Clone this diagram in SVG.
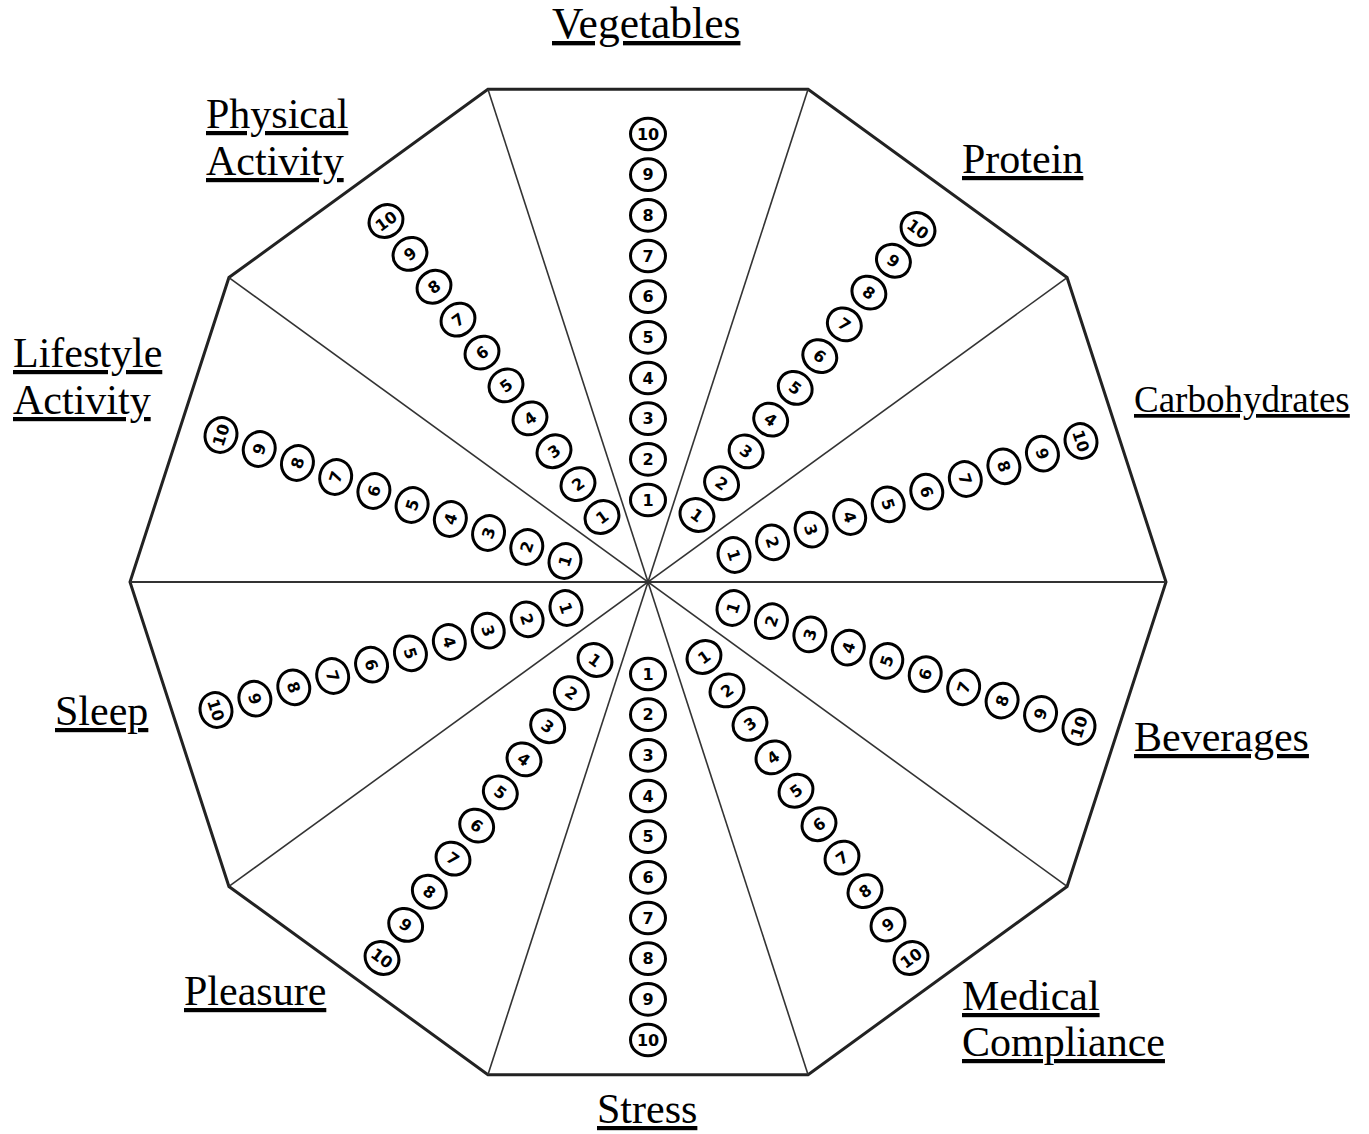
<svg xmlns="http://www.w3.org/2000/svg" width="1369" height="1134" viewBox="0 0 1369 1134">
<style>
.lbl{font-family:"Liberation Serif","Times New Roman",serif;font-size:42px;fill:#000;text-decoration:underline}
.b{fill:#fff;stroke:#000;stroke-width:3}
.n{font-family:"DejaVu Sans",Verdana,sans-serif;font-size:16px;font-weight:bold;fill:#000;text-anchor:middle}
.spoke{stroke:#333;stroke-width:1.6;fill:none}
.frame{fill:#fff;stroke:#222;stroke-width:3;stroke-linejoin:miter}
</style>
<defs>
<ellipse id="bd" class="b" rx="17.5" ry="15.8"/>
</defs>
<rect width="1369" height="1134" fill="#fff"/>
<g id="frame">
<polygon class="frame" points="1166,582 1067.07,277.53 808.07,89.35 487.93,89.35 228.93,277.53 130,582 228.93,886.47 487.93,1074.65 808.07,1074.65 1067.07,886.47"/>
</g>
<g id="connectors">
<line class="spoke" x1="130" y1="582" x2="1166" y2="582" style="stroke-width:2.2"/>
<line class="spoke" x1="1067.07" y1="277.53" x2="228.93" y2="886.47"/>
<line class="spoke" x1="808.07" y1="89.35" x2="487.93" y2="1074.65"/>
<line class="spoke" x1="487.93" y1="89.35" x2="808.07" y2="1074.65"/>
<line class="spoke" x1="228.93" y1="277.53" x2="1067.07" y2="886.47"/>
</g>

<g id="vegetables">
<text class="lbl" x="552" y="38" style="font-size:43.5px">Vegetables</text>
<g transform="translate(648,500)"><use href="#bd"/><text class="n" y="5.8">1</text></g>
<g transform="translate(648,459.33)"><use href="#bd"/><text class="n" y="5.8">2</text></g>
<g transform="translate(648,418.67)"><use href="#bd"/><text class="n" y="5.8">3</text></g>
<g transform="translate(648,378)"><use href="#bd"/><text class="n" y="5.8">4</text></g>
<g transform="translate(648,337.33)"><use href="#bd"/><text class="n" y="5.8">5</text></g>
<g transform="translate(648,296.67)"><use href="#bd"/><text class="n" y="5.8">6</text></g>
<g transform="translate(648,256)"><use href="#bd"/><text class="n" y="5.8">7</text></g>
<g transform="translate(648,215.33)"><use href="#bd"/><text class="n" y="5.8">8</text></g>
<g transform="translate(648,174.67)"><use href="#bd"/><text class="n" y="5.8">9</text></g>
<g transform="translate(648,134)"><use href="#bd"/><text class="n" y="5.8">10</text></g>
</g>

<g id="protein">
<text class="lbl" x="962" y="173">Protein</text>
<g transform="translate(697,515) rotate(36)"><use href="#bd"/><text class="n" y="5.8">1</text></g>
<g transform="translate(721.56,483.22) rotate(36)"><use href="#bd"/><text class="n" y="5.8">2</text></g>
<g transform="translate(746.11,451.44) rotate(36)"><use href="#bd"/><text class="n" y="5.8">3</text></g>
<g transform="translate(770.67,419.67) rotate(36)"><use href="#bd"/><text class="n" y="5.8">4</text></g>
<g transform="translate(795.22,387.89) rotate(36)"><use href="#bd"/><text class="n" y="5.8">5</text></g>
<g transform="translate(819.78,356.11) rotate(36)"><use href="#bd"/><text class="n" y="5.8">6</text></g>
<g transform="translate(844.33,324.33) rotate(36)"><use href="#bd"/><text class="n" y="5.8">7</text></g>
<g transform="translate(868.89,292.56) rotate(36)"><use href="#bd"/><text class="n" y="5.8">8</text></g>
<g transform="translate(893.44,260.78) rotate(36)"><use href="#bd"/><text class="n" y="5.8">9</text></g>
<g transform="translate(918,229) rotate(36)"><use href="#bd"/><text class="n" y="5.8">10</text></g>
</g>

<g id="carbohydrates">
<text class="lbl" x="1134" y="412" style="font-size:37px">Carbohydrates</text>
<g transform="translate(734,555) rotate(72)"><use href="#bd"/><text class="n" y="5.8">1</text></g>
<g transform="translate(772.56,542.33) rotate(72)"><use href="#bd"/><text class="n" y="5.8">2</text></g>
<g transform="translate(811.11,529.67) rotate(72)"><use href="#bd"/><text class="n" y="5.8">3</text></g>
<g transform="translate(849.67,517) rotate(72)"><use href="#bd"/><text class="n" y="5.8">4</text></g>
<g transform="translate(888.22,504.33) rotate(72)"><use href="#bd"/><text class="n" y="5.8">5</text></g>
<g transform="translate(926.78,491.67) rotate(72)"><use href="#bd"/><text class="n" y="5.8">6</text></g>
<g transform="translate(965.33,479) rotate(72)"><use href="#bd"/><text class="n" y="5.8">7</text></g>
<g transform="translate(1003.89,466.33) rotate(72)"><use href="#bd"/><text class="n" y="5.8">8</text></g>
<g transform="translate(1042.44,453.67) rotate(72)"><use href="#bd"/><text class="n" y="5.8">9</text></g>
<g transform="translate(1081,441) rotate(72)"><use href="#bd"/><text class="n" y="5.8">10</text></g>
</g>

<g id="beverages">
<text class="lbl" x="1134" y="751">Beverages</text>
<g transform="translate(733,608) rotate(-72)"><use href="#bd"/><text class="n" y="5.8">1</text></g>
<g transform="translate(771.44,621.22) rotate(-72)"><use href="#bd"/><text class="n" y="5.8">2</text></g>
<g transform="translate(809.89,634.44) rotate(-72)"><use href="#bd"/><text class="n" y="5.8">3</text></g>
<g transform="translate(848.33,647.67) rotate(-72)"><use href="#bd"/><text class="n" y="5.8">4</text></g>
<g transform="translate(886.78,660.89) rotate(-72)"><use href="#bd"/><text class="n" y="5.8">5</text></g>
<g transform="translate(925.22,674.11) rotate(-72)"><use href="#bd"/><text class="n" y="5.8">6</text></g>
<g transform="translate(963.67,687.33) rotate(-72)"><use href="#bd"/><text class="n" y="5.8">7</text></g>
<g transform="translate(1002.11,700.56) rotate(-72)"><use href="#bd"/><text class="n" y="5.8">8</text></g>
<g transform="translate(1040.56,713.78) rotate(-72)"><use href="#bd"/><text class="n" y="5.8">9</text></g>
<g transform="translate(1079,727) rotate(-72)"><use href="#bd"/><text class="n" y="5.8">10</text></g>
</g>

<g id="medical-compliance">
<text class="lbl" x="962" y="1010">Medical</text>
<text class="lbl" x="962" y="1056">Compliance</text>
<g transform="translate(704,657) rotate(-36)"><use href="#bd"/><text class="n" y="5.8">1</text></g>
<g transform="translate(727,690.44) rotate(-36)"><use href="#bd"/><text class="n" y="5.8">2</text></g>
<g transform="translate(750,723.89) rotate(-36)"><use href="#bd"/><text class="n" y="5.8">3</text></g>
<g transform="translate(773,757.33) rotate(-36)"><use href="#bd"/><text class="n" y="5.8">4</text></g>
<g transform="translate(796,790.78) rotate(-36)"><use href="#bd"/><text class="n" y="5.8">5</text></g>
<g transform="translate(819,824.22) rotate(-36)"><use href="#bd"/><text class="n" y="5.8">6</text></g>
<g transform="translate(842,857.67) rotate(-36)"><use href="#bd"/><text class="n" y="5.8">7</text></g>
<g transform="translate(865,891.11) rotate(-36)"><use href="#bd"/><text class="n" y="5.8">8</text></g>
<g transform="translate(888,924.56) rotate(-36)"><use href="#bd"/><text class="n" y="5.8">9</text></g>
<g transform="translate(911,958) rotate(-36)"><use href="#bd"/><text class="n" y="5.8">10</text></g>
</g>

<g id="stress">
<text class="lbl" x="597" y="1123">Stress</text>
<g transform="translate(648,674)"><use href="#bd"/><text class="n" y="5.8">1</text></g>
<g transform="translate(648,714.67)"><use href="#bd"/><text class="n" y="5.8">2</text></g>
<g transform="translate(648,755.33)"><use href="#bd"/><text class="n" y="5.8">3</text></g>
<g transform="translate(648,796)"><use href="#bd"/><text class="n" y="5.8">4</text></g>
<g transform="translate(648,836.67)"><use href="#bd"/><text class="n" y="5.8">5</text></g>
<g transform="translate(648,877.33)"><use href="#bd"/><text class="n" y="5.8">6</text></g>
<g transform="translate(648,918)"><use href="#bd"/><text class="n" y="5.8">7</text></g>
<g transform="translate(648,958.67)"><use href="#bd"/><text class="n" y="5.8">8</text></g>
<g transform="translate(648,999.33)"><use href="#bd"/><text class="n" y="5.8">9</text></g>
<g transform="translate(648,1040)"><use href="#bd"/><text class="n" y="5.8">10</text></g>
</g>

<g id="pleasure">
<text class="lbl" x="184" y="1005">Pleasure</text>
<g transform="translate(595,660) rotate(36)"><use href="#bd"/><text class="n" y="5.8">1</text></g>
<g transform="translate(571.33,693.11) rotate(36)"><use href="#bd"/><text class="n" y="5.8">2</text></g>
<g transform="translate(547.67,726.22) rotate(36)"><use href="#bd"/><text class="n" y="5.8">3</text></g>
<g transform="translate(524,759.33) rotate(36)"><use href="#bd"/><text class="n" y="5.8">4</text></g>
<g transform="translate(500.33,792.44) rotate(36)"><use href="#bd"/><text class="n" y="5.8">5</text></g>
<g transform="translate(476.67,825.56) rotate(36)"><use href="#bd"/><text class="n" y="5.8">6</text></g>
<g transform="translate(453,858.67) rotate(36)"><use href="#bd"/><text class="n" y="5.8">7</text></g>
<g transform="translate(429.33,891.78) rotate(36)"><use href="#bd"/><text class="n" y="5.8">8</text></g>
<g transform="translate(405.67,924.89) rotate(36)"><use href="#bd"/><text class="n" y="5.8">9</text></g>
<g transform="translate(382,958) rotate(36)"><use href="#bd"/><text class="n" y="5.8">10</text></g>
</g>

<g id="sleep">
<text class="lbl" x="55" y="725">Sleep</text>
<g transform="translate(566,608) rotate(72)"><use href="#bd"/><text class="n" y="5.8">1</text></g>
<g transform="translate(527.11,619.33) rotate(72)"><use href="#bd"/><text class="n" y="5.8">2</text></g>
<g transform="translate(488.22,630.67) rotate(72)"><use href="#bd"/><text class="n" y="5.8">3</text></g>
<g transform="translate(449.33,642) rotate(72)"><use href="#bd"/><text class="n" y="5.8">4</text></g>
<g transform="translate(410.44,653.33) rotate(72)"><use href="#bd"/><text class="n" y="5.8">5</text></g>
<g transform="translate(371.56,664.67) rotate(72)"><use href="#bd"/><text class="n" y="5.8">6</text></g>
<g transform="translate(332.67,676) rotate(72)"><use href="#bd"/><text class="n" y="5.8">7</text></g>
<g transform="translate(293.78,687.33) rotate(72)"><use href="#bd"/><text class="n" y="5.8">8</text></g>
<g transform="translate(254.89,698.67) rotate(72)"><use href="#bd"/><text class="n" y="5.8">9</text></g>
<g transform="translate(216,710) rotate(72)"><use href="#bd"/><text class="n" y="5.8">10</text></g>
</g>

<g id="lifestyle-activity">
<text class="lbl" x="13" y="367">Lifestyle</text>
<text class="lbl" x="13" y="414">Activity</text>
<g transform="translate(565,561) rotate(-72)"><use href="#bd"/><text class="n" y="5.8">1</text></g>
<g transform="translate(526.78,547) rotate(-72)"><use href="#bd"/><text class="n" y="5.8">2</text></g>
<g transform="translate(488.56,533) rotate(-72)"><use href="#bd"/><text class="n" y="5.8">3</text></g>
<g transform="translate(450.33,519) rotate(-72)"><use href="#bd"/><text class="n" y="5.8">4</text></g>
<g transform="translate(412.11,505) rotate(-72)"><use href="#bd"/><text class="n" y="5.8">5</text></g>
<g transform="translate(373.89,491) rotate(-72)"><use href="#bd"/><text class="n" y="5.8">6</text></g>
<g transform="translate(335.67,477) rotate(-72)"><use href="#bd"/><text class="n" y="5.8">7</text></g>
<g transform="translate(297.44,463) rotate(-72)"><use href="#bd"/><text class="n" y="5.8">8</text></g>
<g transform="translate(259.22,449) rotate(-72)"><use href="#bd"/><text class="n" y="5.8">9</text></g>
<g transform="translate(221,435) rotate(-72)"><use href="#bd"/><text class="n" y="5.8">10</text></g>
</g>

<g id="physical-activity">
<text class="lbl" x="206" y="128">Physical</text>
<text class="lbl" x="206" y="175">Activity</text>
<g transform="translate(602,517) rotate(-36)"><use href="#bd"/><text class="n" y="5.8">1</text></g>
<g transform="translate(578,484.11) rotate(-36)"><use href="#bd"/><text class="n" y="5.8">2</text></g>
<g transform="translate(554,451.22) rotate(-36)"><use href="#bd"/><text class="n" y="5.8">3</text></g>
<g transform="translate(530,418.33) rotate(-36)"><use href="#bd"/><text class="n" y="5.8">4</text></g>
<g transform="translate(506,385.44) rotate(-36)"><use href="#bd"/><text class="n" y="5.8">5</text></g>
<g transform="translate(482,352.56) rotate(-36)"><use href="#bd"/><text class="n" y="5.8">6</text></g>
<g transform="translate(458,319.67) rotate(-36)"><use href="#bd"/><text class="n" y="5.8">7</text></g>
<g transform="translate(434,286.78) rotate(-36)"><use href="#bd"/><text class="n" y="5.8">8</text></g>
<g transform="translate(410,253.89) rotate(-36)"><use href="#bd"/><text class="n" y="5.8">9</text></g>
<g transform="translate(386,221) rotate(-36)"><use href="#bd"/><text class="n" y="5.8">10</text></g>
</g>
</svg>
